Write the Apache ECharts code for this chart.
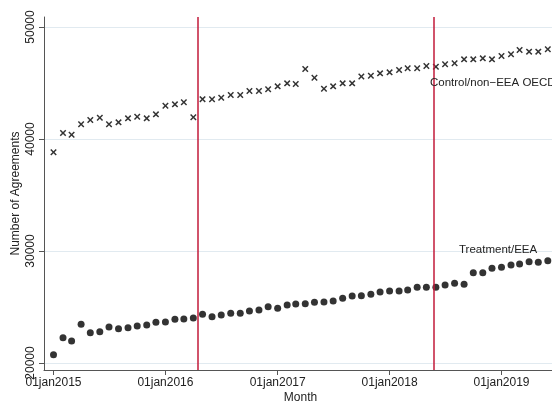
<!DOCTYPE html>
<html>
<head>
<meta charset="utf-8">
<script src="https://cdn.jsdelivr.net/npm/echarts@6/dist/echarts.min.js"></script>
<style>
html,body{margin:0;padding:0;background:#fff;}
#chart{width:552px;height:405px;}
</style>
</head>
<body>
<div id="chart"></div>
<script>
// Monthly observation dates (first of month)
const months = [
  '2015-01','2015-02','2015-03','2015-04','2015-05','2015-06','2015-07','2015-08','2015-09','2015-10','2015-11','2015-12',
  '2016-01','2016-02','2016-03','2016-04','2016-05','2016-06','2016-07','2016-08','2016-09','2016-10','2016-11','2016-12',
  '2017-01','2017-02','2017-03','2017-04','2017-05','2017-06','2017-07','2017-08','2017-09','2017-10','2017-11','2017-12',
  '2018-01','2018-02','2018-03','2018-04','2018-05','2018-06','2018-07','2018-08','2018-09','2018-10','2018-11','2018-12',
  '2019-01','2019-02','2019-03','2019-04','2019-05','2019-06'
];
// Control / non-EEA OECD (x markers)
const controlValues = [
  38810, 40536, 40384, 41310, 41696, 41905, 41310, 41488, 41845, 41994, 41845, 42202,
  42976, 43095, 43274, 41935, 43560, 43542, 43690, 43929, 43929, 44286, 44286, 44435,
  44702, 44970, 44911, 46250, 45476, 44494, 44702, 44970, 44970, 45580, 45640, 45863,
  45952, 46161, 46310, 46310, 46518, 46458, 46667, 46756, 47113, 47113, 47202, 47113,
  47411, 47560, 47946, 47798, 47798, 48006
];
// Treatment / EEA (dots)
const treatmentValues = [
  20741, 22259, 21964, 23452, 22708, 22798, 23214, 23065, 23155, 23304, 23393, 23631,
  23661, 23899, 23929, 24018, 24345, 24137, 24286, 24435, 24435, 24643, 24732, 25030,
  24881, 25179, 25268, 25298, 25417, 25446, 25536, 25774, 25982, 26000, 26131, 26339,
  26429, 26429, 26518, 26756, 26756, 26756, 26964, 27113, 27024, 28065, 28065, 28452,
  28542, 28750, 28839, 29048, 28988, 29137
];
// Event dates (vertical lines)
const eventDates = ['2016-04-14', '2018-05-25'];
// Tick labels
const xTickDates = ['2015-01-01','2016-01-01','2017-01-01','2018-01-01','2019-01-01'];
const xTickLabels = ['01jan2015','01jan2016','01jan2017','01jan2018','01jan2019'];
const yTicks = [20000, 30000, 40000, 50000];
const seriesLabels = ['Control/non\u2212EEA OECD', 'Treatment/EEA'];

const ts = s => { const p = s.split('-').map(Number); return Date.UTC(p[0], p[1] - 1, p[2] || 1); };
const xTickTs = xTickDates.map(ts);
const xLabelMap = {};
xTickTs.forEach((t, i) => { xLabelMap[t] = xTickLabels[i]; });

const FONT = 'Liberation Sans, Arial, sans-serif';
const xSymbol = 'path://M0,1.6L1.6,0L5,3.4L8.4,0L10,1.6L6.6,5L10,8.4L8.4,10L5,6.6L1.6,10L0,8.4L3.4,5Z';

const chart = echarts.init(document.getElementById('chart'), null, {renderer: 'canvas'});
chart.setOption({
  animation: false,
  backgroundColor: '#fff',
  grid: {left: 44, top: 17, width: 513, height: 353, outerBoundsMode: 'none', containLabel: false},
  xAxis: {
    type: 'value',
    min: ts('2014-12-01'),
    max: ts('2019-07-01'),
    axisLine: {show: true, onZero: false, lineStyle: {color: '#555', width: 1}},
    axisTick: {show: true, customValues: xTickTs, length: 5, lineStyle: {color: '#555'}},
    axisLabel: {customValues: xTickTs, formatter: v => xLabelMap[v] || '', color: '#222', fontSize: 12, fontFamily: FONT, margin: 7, hideOverlap: false},
    splitLine: {show: false},
    name: 'Month', nameLocation: 'middle', nameGap: 22, nameMoveOverlap: false,
    nameTextStyle: {color: '#222', fontSize: 12, fontFamily: FONT}
  },
  yAxis: {
    type: 'value',
    min: 19375,
    max: 50893,
    axisLine: {show: true, onZero: false, lineStyle: {color: '#555', width: 1}},
    axisTick: {show: true, customValues: yTicks, length: 5, lineStyle: {color: '#555'}},
    axisLabel: {customValues: yTicks, formatter: v => String(v), rotate: 90, color: '#222', fontSize: 12, fontFamily: FONT, margin: 7, hideOverlap: false},
    splitLine: {show: true, lineStyle: {color: '#e1eaf0', width: 1}},
    name: 'Number of Agreements', nameLocation: 'middle', nameGap: 22, nameRotate: 90, nameMoveOverlap: false,
    nameTextStyle: {color: '#222', fontSize: 12, fontFamily: FONT}
  },
  series: [
    {
      type: 'scatter',
      name: seriesLabels[0],
      symbol: xSymbol,
      symbolSize: 6.5,
      itemStyle: {color: '#000'},
      data: months.map((m, i) => [ts(m), controlValues[i]]),
      markLine: {
        silent: true, symbol: 'none', animation: false,
        label: {show: false},
        lineStyle: {color: '#c21a3a', width: 1.5, type: 'solid'},
        data: eventDates.map(d => ({xAxis: ts(d)}))
      }
    },
    {
      type: 'scatter',
      name: seriesLabels[1],
      symbol: 'circle',
      symbolSize: 7,
      itemStyle: {color: '#000'},
      data: months.map((m, i) => [ts(m), treatmentValues[i]])
    }
  ],
  graphic: [
    {type: 'text', z: 100, left: 430, top: 77, style: {text: seriesLabels[0], font: '11.5px ' + FONT, fill: '#222'}},
    {type: 'text', z: 100, left: 459, top: 244, style: {text: seriesLabels[1], font: '11.5px ' + FONT, fill: '#222'}}
  ]
});
</script>
</body>
</html>
